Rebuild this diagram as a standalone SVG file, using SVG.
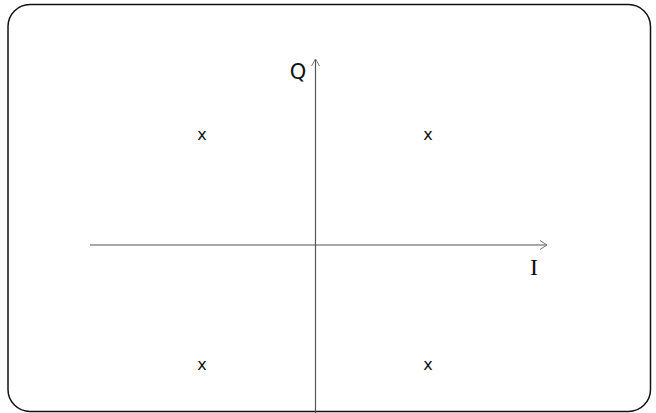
<svg xmlns="http://www.w3.org/2000/svg" width="656" height="413" viewBox="0 0 656 413">
<defs>
<style>
.axis{stroke:#555;stroke-width:1.2;fill:none}
.head{stroke:#777;stroke-width:1;fill:none}
.pt{font-family:"DejaVu Sans",Verdana,sans-serif;font-size:16px;fill:#111;text-anchor:middle}
</style>
</defs>
<rect x="8" y="4.5" width="642.5" height="407" rx="22" ry="22" fill="#fff" stroke="#111" stroke-width="1.5"/>
<g id="connectors">
<line class="axis" x1="90" y1="245" x2="547" y2="245"/>
<polyline class="head" points="540,240.5 547,245 540,249.5"/>
<line class="axis" x1="315.5" y1="413" x2="315.5" y2="59"/>
<polyline class="head" points="311.5,66 315.5,59 319.5,66"/>
</g>
<g id="label-Q"><text x="298" y="79" font-family="DejaVu Sans,Verdana,sans-serif" font-size="21" text-anchor="middle" fill="#111">Q</text></g>
<g id="label-I"><text x="534" y="275" font-family="Liberation Serif,Times New Roman,serif" font-size="24" text-anchor="middle" fill="#111">I</text></g>
<g id="p1"><text class="pt" x="202" y="140">x</text></g>
<g id="p2"><text class="pt" x="428" y="140">x</text></g>
<g id="p3"><text class="pt" x="202" y="370">x</text></g>
<g id="p4"><text class="pt" x="428" y="370">x</text></g>
</svg>
